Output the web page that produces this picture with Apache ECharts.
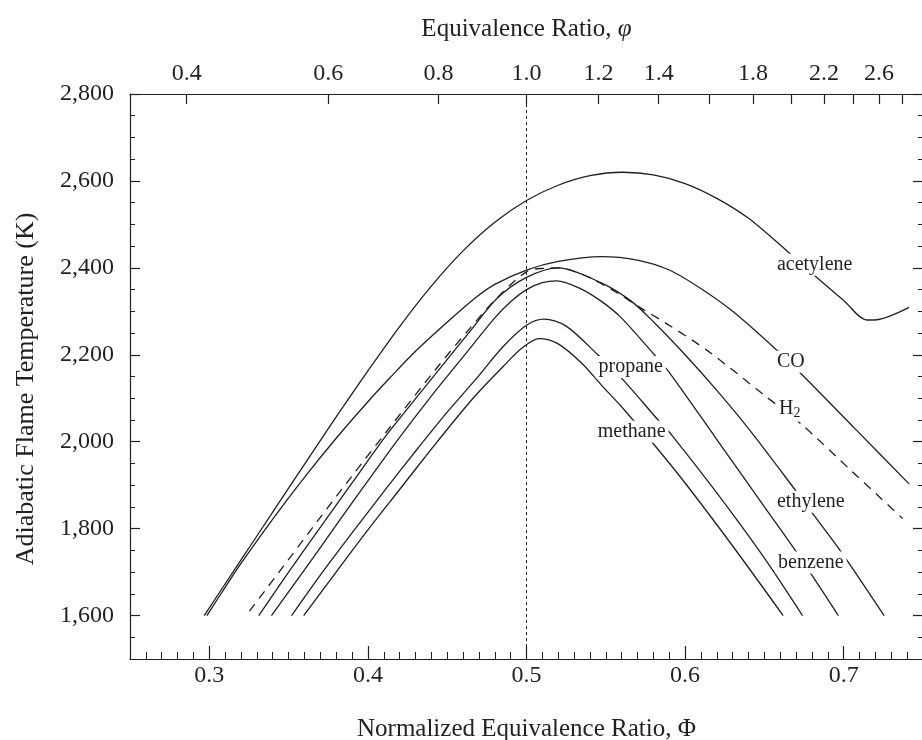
<!DOCTYPE html>
<html><head><meta charset="utf-8">
<script src="https://cdn.jsdelivr.net/npm/echarts@6/dist/echarts.min.js"></script>
<style>html,body{margin:0;padding:0;background:#fff}#c{width:922px;height:740px}</style>
</head><body><div id="c"></div>
<script>
// ---- axis ticks / labels ----
const xMajorTicks = [0.3, 0.4, 0.5, 0.6, 0.7];
const yMajorTicks = [1600, 1800, 2000, 2200, 2400, 2600, 2800];
const phiTopTicks = [0.4, 0.6, 0.8, 1.0, 1.2, 1.4, 1.6, 1.8, 2.0, 2.2, 2.4, 2.6, 2.8];
const phiTopLabels = [0.4, 0.6, 0.8, 1.0, 1.2, 1.4, 1.8, 2.2, 2.6];

// ---- series (normalized equivalence ratio Φ, adiabatic flame temperature K) ----
const acetylenePhi = [0.2968, 0.32, 0.34, 0.36, 0.38, 0.40, 0.42, 0.44, 0.46, 0.48, 0.50, 0.52, 0.54, 0.5606, 0.58, 0.60, 0.62, 0.64, 0.6639, 0.6818, 0.70, 0.7146, 0.7196, 0.7412];
const acetyleneT   = [1600, 1728, 1838, 1948, 2057, 2163, 2265, 2358, 2439, 2505, 2555, 2590, 2612, 2620, 2614, 2594, 2560, 2514, 2440, 2382, 2325, 2280, 2280, 2309];

const coPhi = [0.2985, 0.31, 0.32, 0.34, 0.36, 0.38, 0.40, 0.4139, 0.43, 0.45, 0.4667, 0.48, 0.50, 0.52, 0.547, 0.57, 0.59, 0.6101, 0.63, 0.6565, 0.673, 0.7071, 0.7412];
const coT   = [1600, 1665, 1720, 1822, 1918, 2008, 2092, 2147, 2208, 2275, 2328, 2362, 2395, 2415, 2426, 2418, 2395, 2352, 2300, 2215, 2157, 2030, 1903];

const h2Phi = [0.3253, 0.35, 0.3696, 0.39, 0.4128, 0.4424, 0.4646, 0.4825, 0.5004, 0.511, 0.5215, 0.530, 0.5395, 0.5584, 0.568, 0.589, 0.6143, 0.652, 0.6734, 0.7051, 0.7372];
const h2T   = [1610, 1729, 1824, 1921, 2028, 2165, 2262, 2335, 2392, 2399, 2400, 2392, 2378, 2340, 2317, 2270, 2209, 2101, 2040, 1932, 1823];

const ethylenePhi = [0.3312, 0.35, 0.37, 0.39, 0.41, 0.4203, 0.4424, 0.4646, 0.4815, 0.50, 0.52, 0.5468, 0.5658, 0.58, 0.60, 0.62, 0.64, 0.6692, 0.6818, 0.6977, 0.706, 0.7255];
const ethyleneT   = [1600, 1700, 1803, 1905, 2007, 2055, 2155, 2255, 2330, 2378, 2400, 2366, 2324, 2276, 2200, 2118, 2030, 1890, 1828, 1750, 1706, 1600];

const benzenePhi = [0.3392, 0.36, 0.38, 0.40, 0.42, 0.44, 0.46, 0.48, 0.49, 0.50, 0.51, 0.519, 0.533, 0.5468, 0.5595, 0.5806, 0.5901, 0.62, 0.65, 0.6713, 0.6966];
const benzeneT   = [1600, 1705, 1808, 1910, 2010, 2105, 2195, 2285, 2322, 2350, 2366, 2370, 2354, 2324, 2286, 2200, 2159, 2005, 1850, 1740, 1600];

const propanePhi = [0.3519, 0.37, 0.39, 0.41, 0.43, 0.45, 0.47, 0.485, 0.50, 0.511, 0.525, 0.5447, 0.5605, 0.5827, 0.5921, 0.62, 0.65, 0.674];
const propaneT   = [1600, 1693, 1790, 1885, 1978, 2068, 2152, 2218, 2268, 2282, 2266, 2201, 2144, 2051, 2013, 1882, 1732, 1600];

const methanePhi = [0.3595, 0.38, 0.40, 0.42, 0.44, 0.46, 0.47, 0.485, 0.497, 0.508, 0.52, 0.535, 0.5468, 0.5595, 0.5669, 0.5796, 0.60, 0.63, 0.6618];
const methaneT   = [1600, 1700, 1797, 1890, 1983, 2073, 2115, 2172, 2215, 2237, 2225, 2180, 2132, 2082, 2051, 1997, 1905, 1760, 1600];

// ---- curve labels ----
const labelNames = ['acetylene', 'CO', 'H2', 'ethylene', 'benzene', 'propane', 'methane'];
const labelPhi   = [0.6817, 0.6667, 0.6660, 0.6793, 0.6793, 0.5657, 0.5663];
const labelT     = [2407, 2184, 2076, 1862, 1722, 2172, 2023];

const INK = '#231f20';
const SERIF = '"Liberation Serif", "DejaVu Serif", serif';
const zip = (a, b) => a.map((v, i) => [v, b[i]]);

function curve(name, phi, t, dashed) {
  return {
    name, type: 'line', xAxisIndex: 0, yAxisIndex: 0,
    data: zip(phi, t), smooth: 0.3, symbol: 'none', z: 3,
    lineStyle: { color: INK, width: 1.3, type: dashed ? [9, 7] : 'solid' }
  };
}

const chart = echarts.init(document.getElementById('c'), null, { renderer: 'canvas' });
const tickLabel = { color: INK, fontFamily: SERIF, fontSize: 24 };

const option = {
  animation: false,
  backgroundColor: '#fff',
  grid: { left: 130, right: -1, top: 94, bottom: 81, containLabel: false, outerBoundsMode: 'none' },
  graphic: [{
    type: 'text', x: 26, y: 389, rotation: Math.PI / 2,
    style: { text: 'Adiabatic Flame Temperature (K)', fill: INK, font: '26px ' + SERIF,
      align: 'center', verticalAlign: 'middle' }
  }],
  xAxis: [
    { type: 'value', position: 'bottom', min: 0.25, max: 0.75,
      name: 'Normalized Equivalence Ratio, Φ', nameLocation: 'middle', nameGap: 58,
      nameTextStyle: { color: INK, fontFamily: SERIF, fontSize: 25 },
      axisLine: { show: true, onZero: false, lineStyle: { color: INK, width: 1.2 } },
      axisTick: { show: true, inside: true, length: 13, customValues: xMajorTicks, lineStyle: { color: INK, width: 1.2 } },
      axisLabel: Object.assign({ customValues: xMajorTicks, margin: 5, formatter: v => v.toFixed(1) }, tickLabel),
      splitLine: { show: false } },
    { type: 'value', position: 'bottom', min: 0.25, max: 0.75, interval: 0.01,
      axisLine: { show: false, onZero: false },
      axisTick: { show: true, inside: true, length: 7, lineStyle: { color: INK, width: 1 } },
      axisLabel: { show: false }, splitLine: { show: false } },
    { type: 'value', position: 'top', min: 0.25, max: 0.75,
      name: '{n|Equivalence Ratio, }{i|φ}', nameLocation: 'middle', nameGap: 52,
      nameTextStyle: { rich: {
        n: { color: INK, fontFamily: SERIF, fontSize: 25 },
        i: { color: INK, fontFamily: SERIF, fontSize: 25, fontStyle: 'italic' } } },
      axisLine: { show: true, onZero: false, lineStyle: { color: INK, width: 1.2 } },
      axisTick: { show: true, inside: true, length: 10,
        customValues: phiTopTicks.map(p => p / (1 + p)), lineStyle: { color: INK, width: 1.2 } },
      axisLabel: Object.assign({ customValues: phiTopLabels.map(p => p / (1 + p)), margin: 8,
        formatter: v => (v / (1 - v)).toFixed(1) }, tickLabel),
      splitLine: { show: false } }
  ],
  yAxis: [
    { type: 'value', position: 'left', min: 1500, max: 2800,
      axisLine: { show: true, onZero: false, lineStyle: { color: INK, width: 1.2 } },
      axisTick: { show: true, inside: true, length: 10, customValues: yMajorTicks, lineStyle: { color: INK, width: 1.2 } },
      axisLabel: Object.assign({ customValues: yMajorTicks, margin: 16,
        formatter: v => v.toLocaleString('en-US') }, tickLabel),
      splitLine: { show: false } },
    { type: 'value', position: 'left', min: 1500, max: 2800, interval: 50,
      axisLine: { show: false, onZero: false },
      axisTick: { show: true, inside: true, length: 5, lineStyle: { color: INK, width: 1 } },
      axisLabel: { show: false }, splitLine: { show: false } },
    { type: 'value', position: 'right', min: 1500, max: 2800,
      axisLine: { show: true, onZero: false, lineStyle: { color: INK, width: 1.2 } },
      axisTick: { show: true, inside: true, length: 10, customValues: yMajorTicks, lineStyle: { color: INK, width: 1.2 } },
      axisLabel: { show: false }, splitLine: { show: false } },
    { type: 'value', position: 'right', min: 1500, max: 2800, interval: 50,
      axisLine: { show: false, onZero: false },
      axisTick: { show: true, inside: true, length: 5, lineStyle: { color: INK, width: 1 } },
      axisLabel: { show: false }, splitLine: { show: false } }
  ],
  series: [
    curve('acetylene', acetylenePhi, acetyleneT, false),
    curve('CO', coPhi, coT, false),
    curve('H2', h2Phi, h2T, true),
    curve('ethylene', ethylenePhi, ethyleneT, false),
    curve('benzene', benzenePhi, benzeneT, false),
    curve('propane', propanePhi, propaneT, false),
    curve('methane', methanePhi, methaneT, false),
    { name: 'stoich', type: 'line', xAxisIndex: 0, yAxisIndex: 0, data: [], z: 2,
      markLine: { silent: true, symbol: 'none', label: { show: false },
        lineStyle: { color: INK, width: 1, type: [3, 3] },
        data: [[{ coord: [0.5, 1500] }, { coord: [0.5, 2800] }]] } },
    { name: 'labels', type: 'scatter', xAxisIndex: 0, yAxisIndex: 0, z: 10,
      symbolSize: 0, silent: true, itemStyle: { opacity: 1 },
      data: labelNames.map((n, i) => ({ value: [labelPhi[i], labelT[i]], name: n })),
      label: { show: true, position: 'inside', color: INK, fontFamily: SERIF, fontSize: 20,
        backgroundColor: '#fff', padding: [1, 3, 1, 3],
        formatter: p => p.name === 'H2' ? 'H{s|2}' : p.name,
        rich: { s: { fontFamily: SERIF, fontSize: 14, color: INK, verticalAlign: 'bottom', padding: [10, 0, 0, 0] } } } }
  ]
};
chart.setOption(option);
</script>
</body></html>
